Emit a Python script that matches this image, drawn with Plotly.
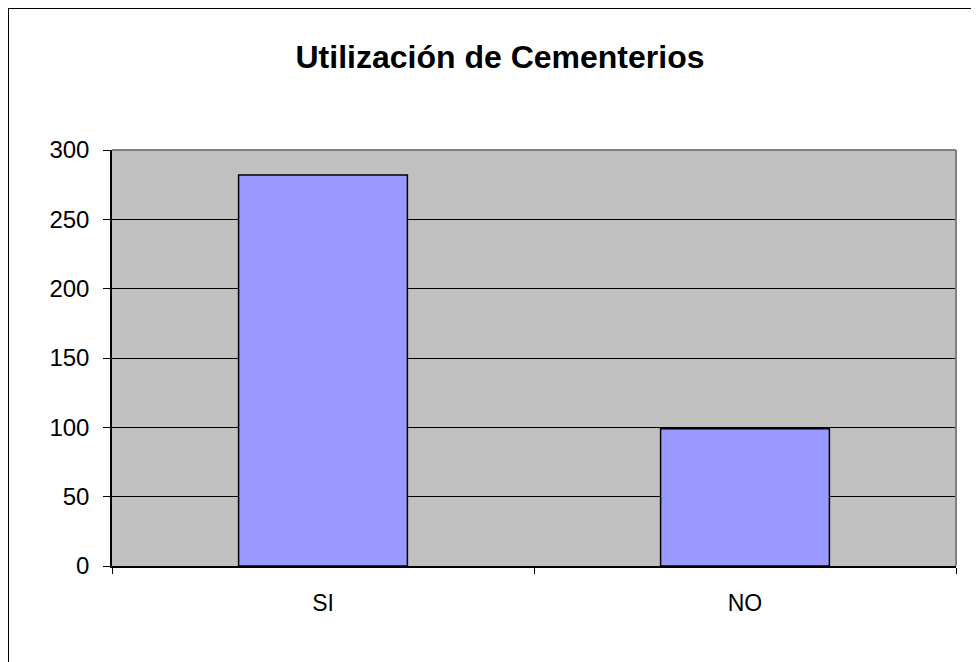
import plotly.graph_objects as go

categories = ["SI", "NO"]
values = [282, 99]
y_ticks = [0, 50, 100, 150, 200, 250, 300]
title_text = "Utilización de Cementerios"

# page has an 8px body margin, so figure coords = screen coords - 8
W, H = 971, 654
L, R, T, B = 104, 23, 142, 96
pw, ph = W - L - R, H - T - B

fig = go.Figure(go.Bar(
    x=categories, y=values,
    marker=dict(color="#9999FF", line=dict(color="black", width=1.5)),
    width=0.4,
))

def px_x(p):
    return (p - L) / pw

def px_y(p):
    return 1 - (p - T) / ph

fig.update_layout(
    width=W, height=H,
    margin=dict(l=L, r=R, t=T, b=B),
    paper_bgcolor="white",
    plot_bgcolor="#C0C0C0",
    showlegend=False,
    title=dict(text="<b>" + title_text + "</b>", x=492 / W, xanchor="center",
               y=1 - 49 / H, yanchor="middle",
               font=dict(family="Liberation Sans, Arial", size=32, color="black")),
    font=dict(family="Liberation Sans, Arial", color="black"),
    xaxis=dict(
        showline=True, linecolor="black", linewidth=1.5,
        ticks="outside", tickson="boundaries", ticklen=6, tickcolor="black",
        tickfont=dict(size=23, color="black"),
        showgrid=False, zeroline=False, ticklabelstandoff=16,
    ),
    yaxis=dict(
        range=[0, 300], tickvals=y_ticks,
        showline=True, linecolor="black", linewidth=1.5,
        ticks="outside", ticklen=7, tickcolor="black",
        tickfont=dict(size=24, color="black"),
        showgrid=True, gridcolor="black", gridwidth=1,
        zeroline=False, ticklabelstandoff=9,
    ),
    shapes=[
        dict(type="line", xref="paper", yref="paper", x0=0, x1=1, y0=1, y1=1,
             line=dict(color="#808080", width=2), layer="above"),
        dict(type="line", xref="paper", yref="paper", x0=1, x1=1, y0=0, y1=1,
             line=dict(color="#808080", width=2), layer="above"),
        dict(type="rect", xref="paper", yref="paper",
             x0=px_x(0), x1=px_x(1000), y0=px_y(700), y1=px_y(0),
             line=dict(color="black", width=2), layer="above"),
    ],
)

fig.write_html("out.html")
